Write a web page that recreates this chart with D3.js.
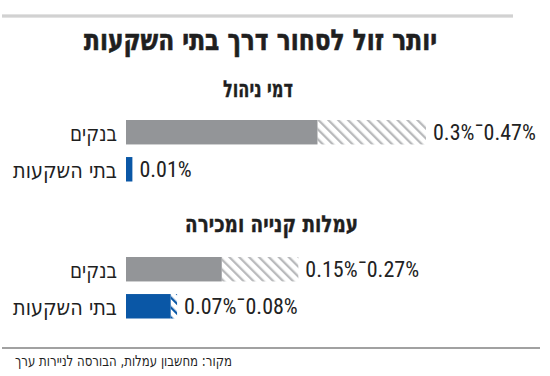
<!DOCTYPE html>
<html><head><meta charset="utf-8">
<script src="https://cdn.jsdelivr.net/npm/d3@7"></script>
<style>
body{margin:0;background:#fff;}
text{font-family:"Liberation Sans Narrow","Roboto Condensed","Liberation Sans",sans-serif;}
text.he{font-family:"DejaVu Sans Condensed","DejaVu Sans",sans-serif;}
</style></head>
<body><svg id="c" width="550" height="376"></svg>
<script>
const title = "יותר זול לסחור דרך בתי השקעות";
const sections = ["דמי ניהול", "עמלות קנייה ומכירה"];
const categories = ["בנקים", "בתי השקעות"];
const minValues = [[0.3, 0.01], [0.15, 0.07]];
const maxValues = [[0.47, 0.01], [0.27, 0.08]];
const valueLabels = [["0.3%ˉ0.47%", "0.01%"], ["0.15%ˉ0.27%", "0.07%ˉ0.08%"]];
const source = "מקור: מחשבון עמלות, הבורסה לניירות ערך";

const svg = d3.select("#c");
const defs = svg.append("defs");
function hatch(id, color){
  const s = 7;
  const p = defs.append("pattern").attr("id", id).attr("patternUnits","userSpaceOnUse")
    .attr("width",s).attr("height",s).attr("patternTransform","rotate(-45)");
  p.append("rect").attr("width",s).attr("height",s).attr("fill","#fff");
  p.append("rect").attr("x",0).attr("y",0).attr("width",2.3).attr("height",s).attr("fill",color);
}
hatch("hg","#b9babc");
hatch("hb","#0a57a6");

const colors = {solid:["#939598","#0a57a6"], hatch:["url(#hg)","url(#hb)"]};

function heText(parent, str, xL, xR, base, size, bold){
  return parent.append("text").attr("class","he")
    .attr("x", xL).attr("y", base)
    .attr("font-size", size).attr("font-weight", bold ? "bold" : "normal")
    .attr("fill","#1f1f1f")
    .attr("textLength", xR - xL).attr("lengthAdjust","spacingAndGlyphs")
    .text(str);
}

// top double rule
svg.append("rect").attr("x",2).attr("y",14.5).attr("width",511).attr("height",3).attr("fill","#c6c6c6");
svg.append("line").attr("x1",2).attr("x2",513).attr("y1",16).attr("y2",16).attr("stroke","#ececec").attr("stroke-width",0.6);

heText(svg, title, 84, 437, 50, 29, true).attr("stroke","#1f1f1f").attr("stroke-width",0.6);

const x = d3.scaleLinear().domain([0, 0.47]).range([126, 426]);
const barsTop = [120, 257];
const subBase = [97, 232];
const subX = [[223, 293], [185, 358]];
const labelX = [[70, 117], [13, 117]];
const y = d3.scaleBand().domain(categories).range([0, 61.5]).paddingInner(0.34).paddingOuter(0);

sections.forEach((s, si) => {
  heText(svg, s, subX[si][0], subX[si][1], subBase[si], 23, true).attr("stroke","#1f1f1f").attr("stroke-width",0.4);
  const bg = svg.append("g").attr("transform", `translate(0,${barsTop[si]})`);
  categories.forEach((c, ci) => {
    const yy = y(c);
    const h = y.bandwidth();
    bg.append("rect").attr("x", x(minValues[si][ci])).attr("y", yy)
      .attr("width", x(maxValues[si][ci]) - x(minValues[si][ci])).attr("height", h)
      .attr("fill", colors.hatch[ci]);
    bg.append("rect").attr("x", x(0)).attr("y", yy)
      .attr("width", x(minValues[si][ci]) - x(0)).attr("height", h)
      .attr("fill", colors.solid[ci]);
    heText(bg, c, labelX[ci][0], labelX[ci][1], yy + h/2 + 9, 22, false);
    bg.append("text").attr("x", x(maxValues[si][ci]) + 7).attr("y", yy + h/2 + 7.5)
      .attr("font-size",22).attr("fill","#222").text(valueLabels[si][ci]);
  });
});

svg.append("line").attr("x1",2).attr("x2",540).attr("y1",348).attr("y2",348)
  .attr("stroke","#444").attr("stroke-width",1.2);
heText(svg, source, 15, 232, 366, 15, false);
</script></body></html>
